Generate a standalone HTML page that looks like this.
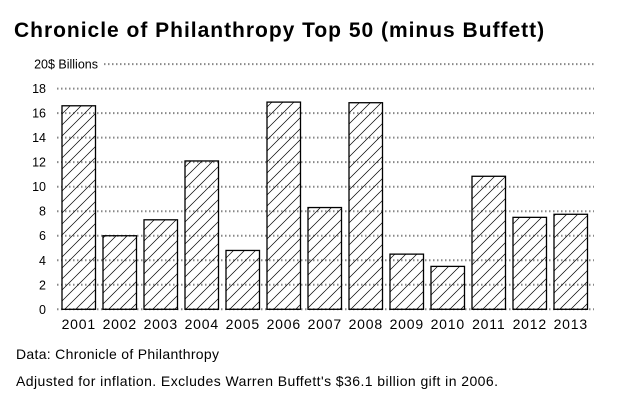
<!DOCTYPE html>
<html><head><meta charset="utf-8"><style>
body{margin:0;background:#fff;width:630px;height:400px;overflow:hidden;font-family:"Liberation Sans",sans-serif;}
</style></head><body>
<svg width="630" height="400" xmlns="http://www.w3.org/2000/svg">
<defs><pattern id="hatch" patternUnits="userSpaceOnUse" width="11" height="11"><path d="M-2,13 L13,-2 M-2,2 L2,-2 M9,13 L13,9" stroke="#000" stroke-width="0.7"/></pattern></defs>
<text x="14" y="37" font-size="21" font-weight="bold" letter-spacing="0.9" textLength="531" fill="#000">Chronicle of Philanthropy Top 50 (minus Buffett)</text>
<g id="grid"></g><g id="bars"></g><g id="labels"></g>
<text x="16" y="359" font-size="14" textLength="203">Data: Chronicle of Philanthropy</text>
<text x="16" y="386" font-size="14" textLength="482">Adjusted for inflation. Excludes Warren Buffett's $36.1 billion gift in 2006.</text>
</svg>
<script>
const categories=["2001","2002","2003","2004","2005","2006","2007","2008","2009","2010","2011","2012","2013"];
const values=[16.6,6.0,7.3,12.1,4.8,16.9,8.3,16.85,4.5,3.5,10.85,7.5,7.75];
const yTicks=[0,2,4,6,8,10,12,14,16,18,20];
const NS="http://www.w3.org/2000/svg";
const y0=309.3,unit=12.26,x0=62,pitch=41.0,bw=33.5;
const y=v=>y0-v*unit, x=i=>x0+i*pitch;
function mk(t,a,p){const e=document.createElementNS(NS,t);for(const k in a)e.setAttribute(k,a[k]);document.getElementById(p).appendChild(e);return e;}
yTicks.forEach(v=>{
  const top=v===20;
  const g=mk('line',{x1:top?104:57,x2:594,y1:y(v),y2:y(v),stroke:'#888','stroke-width':2,'stroke-dasharray':'1.5 2.5'},'grid');
  
  
  const t=mk('text',{x:top?98:46,y:y(v)+4.5,'font-size':12.5,'text-anchor':'end'},'grid');
  t.textContent=top?'20$ Billions':String(v);
  
  
});
categories.forEach((c,i)=>{
  const r=mk('rect',{x:x(i),y:y(values[i]),width:bw,height:y0-y(values[i]),fill:'url(#hatch)',stroke:'#000','stroke-width':1.3},'bars');
  
  
  const t=mk('text',{x:x(i)+bw/2,y:329,'font-size':14,'text-anchor':'middle','letter-spacing':0.8},'labels');
  t.textContent=c;
  
  
});
</script>
</body></html>
